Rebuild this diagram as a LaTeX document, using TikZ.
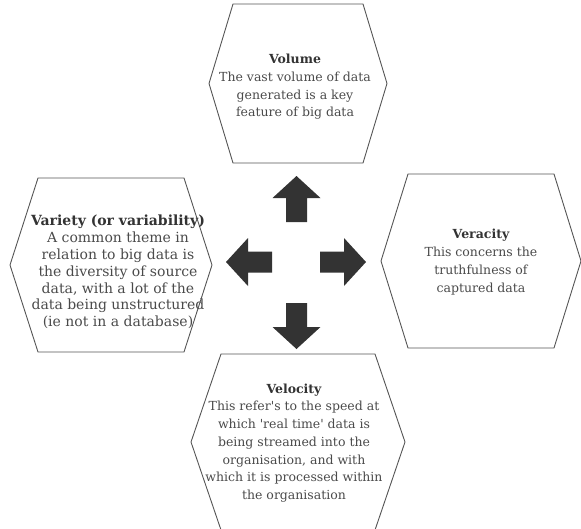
\documentclass[tikz,border=0pt]{standalone}
\usepackage{fontspec}
\setmainfont{DejaVu Serif}
\usepackage{tikz}
\definecolor{edgegray}{HTML}{555555}
\definecolor{textgray}{HTML}{4A4A4A}
\definecolor{titlegray}{HTML}{333333}
\definecolor{arrowgray}{HTML}{333333}
\tikzstyle{feature} = [align=center, text=textgray, inner sep=0pt, font=\fontsize{12.5}{17.7}\selectfont]
\tikzstyle{widefeature} = [feature, font=\fontsize{14}{16.8}\selectfont]
\tikzstyle{hexline} = [draw=edgegray, line width=0.9pt, line join=miter]
\tikzstyle{fatarrow} = [fill=arrowgray, draw=none]
% hexagon round a centre: centre, half width, half height, indent
\newcommand{\hexaround}[4]{%
  \draw[hexline, shift={(#1)}] (-#2,0) -- (-#2+#4,-#3) -- (#2-#4,-#3) -- (#2,0)
    -- (#2-#4,#3) -- (-#2+#4,#3) -- cycle;}
\newcommand{\ttl}[1]{{\bfseries\color{titlegray}#1}}

\begin{document}
\begin{tikzpicture}[x=1pt, y=-1pt]
\useasboundingbox (0,0) rectangle (581,528);

\coordinate (volc) at (298,83.5);
\coordinate (varc) at (111,265);
\coordinate (verc) at (481,261);
\coordinate (velc) at (298,442);

\hexaround{volc}{89}{79.5}{24}
\hexaround{varc}{101}{87}{28}
\hexaround{verc}{100}{87}{27}
\hexaround{velc}{107}{88}{30}

\node (volume)   [feature] at (295,87)  {\ttl{Volume}\\The vast volume of data\\generated is a key\\feature of big data};
\node (variety)  [widefeature] at (118,272) {\ttl{Variety (or variability)}\\A common theme in\\relation to big data is\\the diversity of source\\data, with a lot of the\\data being unstructured\\(ie not in a database)};
\node (veracity) [feature] at (481,262) {\ttl{Veracity}\\This concerns the\\truthfulness of\\captured data};
\node (velocity) [feature] at (294,443) {\ttl{Velocity}\\This refer\textquotesingle s to the speed at\\which \textquotesingle real time\textquotesingle\ data is\\being streamed into the\\organisation, and with\\which it is processed within\\the organisation};

% the four block arrows
\foreach \ang/\sx/\sy in {90/296.5/222, -90/296.5/303, 180/272/262, 0/320/262}
  \fill[fatarrow, shift={(\sx,\sy)}, rotate=\ang]
    (0,-10.5) -- (24,-10.5) -- (24,-24) -- (46,0) -- (24,24) -- (24,10.5) -- (0,10.5) -- cycle;

\end{tikzpicture}
\end{document}
